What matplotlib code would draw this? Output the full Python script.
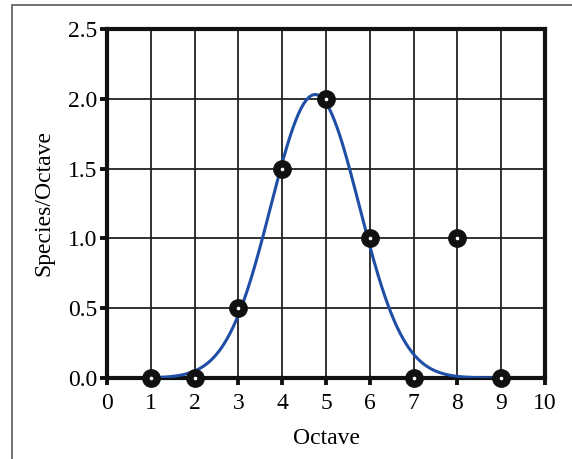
import matplotlib

matplotlib.use("Agg")

import matplotlib.pyplot as plt
import numpy as np
from matplotlib.patches import Rectangle

# observed species per octave
octaves = [1, 2, 3, 4, 5, 6, 7, 8, 9]
species = [0, 0, 0.5, 1.5, 2.0, 1.0, 0, 1.0, 0]

# fitted normal curve
curve_peak = 2.03
curve_mode = 4.75
curve_width = 1.01
curve_start, curve_end = 1, 9

x_ticks = list(range(0, 11))
y_ticks = [0.0, 0.5, 1.0, 1.5, 2.0, 2.5]

plt.rcParams["font.family"] = ["Liberation Serif", "DejaVu Serif"]

fig = plt.figure(figsize=(5.72, 4.59), dpi=100)
ax = fig.add_axes([0.187, 0.1765, 0.766, 0.7605])

# outer frame of the figure
fig.patches.append(Rectangle((12 / 572, -0.1), 1.2, 1.1 - 5 / 459, transform=fig.transFigure,
                             fill=False, edgecolor="#666666", linewidth=1.3))

ax.grid(True, color="#222222", linewidth=1.3)
ax.set_axisbelow(True)

xs = np.linspace(curve_start, curve_end, 400)
ys = curve_peak * np.exp(-((xs - curve_mode) ** 2) / (2 * curve_width ** 2))
ax.plot(xs, ys, color="#1f4ea6", linewidth=2.2, zorder=3)

ax.plot(octaves, species, linestyle="none", marker="o", markersize=12.5,
        color="#111111", clip_on=False, zorder=4)
ax.plot(octaves, species, linestyle="none", marker="o", markersize=1.6,
        color="white", clip_on=False, zorder=5)

ax.set_xlim(0, 10)
ax.set_ylim(0, 2.5)
ax.set_xticks(x_ticks)
ax.set_yticks(y_ticks)
ax.set_yticklabels([f"{v:.1f}" for v in y_ticks])

for spine in ax.spines.values():
    spine.set_linewidth(3.0)
    spine.set_color("#111111")

ax.tick_params(direction="out", length=5, width=2.8, color="#111111",
               labelsize=17)
ax.tick_params(axis="x", pad=6)
ax.tick_params(axis="y", pad=2)

ax.set_xlabel("Octave", fontsize=17, labelpad=10)
ax.set_ylabel("Species/Octave", fontsize=17, labelpad=10)

fig.savefig("out.png", dpi=100)
